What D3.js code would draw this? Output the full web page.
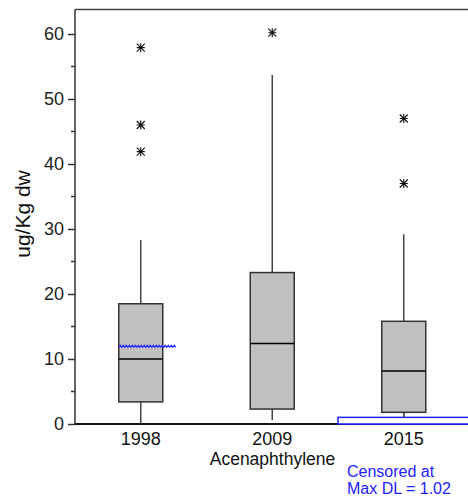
<!DOCTYPE html>
<html>
<head>
<meta charset="utf-8">
<script src="https://cdn.jsdelivr.net/npm/d3@7"></script>
<style>
body { margin: 0; background: #fff; }
text { font-family: "Liberation Sans", Arial, sans-serif; }
</style>
</head>
<body>
<div id="app"></div>
<script>
// values
const categories = ['1998', '2009', '2015']
const whiskLo = [0.1, 0.6, 1.0]
const q1 = [3.4, 2.3, 1.8]
const median = [10.0, 12.4, 8.15]
const q3 = [18.5, 23.3, 15.8]
const whiskHi = [28.3, 53.7, 29.2]
const outliers = [[57.9, 46.0, 41.9], [60.2], [47.0, 37.0]]
const means = [11.8, null, null]
const censored = [null, null, 1.02]
const yTicks = [0, 10, 20, 30, 40, 50, 60]
const yMinor = [5, 15, 25, 35, 45, 55]

const W = 468, H = 499
const svg = d3.select('#app').append('svg').attr('width', W).attr('height', H)

const left = 75, right = 469.5, bottom = 424
const x = d3.scalePoint().domain(categories).range([left, right]).padding(0.5)
const y = d3.scaleLinear().domain([0, 60]).range([bottom, 34])
const step = x.step()
const bw = 44

const rows = categories.map((c, i) => ({
  c, lo: whiskLo[i], q1: q1[i], med: median[i], q3: q3[i], hi: whiskHi[i],
  out: outliers[i], mean: means[i], cens: censored[i]
}))

// frame top line
svg.append('line').attr('x1', left).attr('x2', W).attr('y1', 9.5).attr('y2', 9.5)
  .attr('stroke', '#444').attr('stroke-width', 1.5)

// y axis
const yAxis = svg.append('g').attr('transform', `translate(${left},0)`)
  .call(d3.axisLeft(y).tickValues(yTicks).tickSize(7).tickPadding(4).tickFormat(d3.format('d')))
yAxis.select('.domain').remove()
yAxis.selectAll('.tick line').attr('stroke', '#333').attr('stroke-width', 1.5)
yAxis.selectAll('.tick text').attr('font-size', 18).attr('fill', '#222')
  .attr('font-family', '"Liberation Sans", Arial, sans-serif')
yAxis.selectAll('.minor').data(yMinor).enter().append('line')
  .attr('x1', -4).attr('x2', 0).attr('y1', d => y(d)).attr('y2', d => y(d))
  .attr('stroke', '#333').attr('stroke-width', 1.5)
svg.append('line').attr('x1', left).attr('x2', left).attr('y1', 9.5).attr('y2', bottom)
  .attr('stroke', '#333').attr('stroke-width', 1.5)

// x axis
svg.append('line').attr('x1', left).attr('x2', W).attr('y1', bottom).attr('y2', bottom)
  .attr('stroke', '#111').attr('stroke-width', 2)
svg.selectAll('.xlab').data(categories).enter().append('text')
  .attr('x', d => x(d)).attr('y', 445).attr('text-anchor', 'middle')
  .attr('font-size', 18).attr('fill', '#111').text(d => d)

svg.append('text').attr('x', 272.5).attr('y', 465).attr('text-anchor', 'middle')
  .attr('font-size', 17.5).attr('fill', '#111').text('Acenaphthylene')

svg.append('text').attr('transform', 'translate(30,214) rotate(-90)')
  .attr('text-anchor', 'middle').attr('font-size', 21).attr('fill', '#111').text('ug/Kg dw')

// boxes
const g = svg.selectAll('.box').data(rows).enter().append('g')
  .attr('transform', d => `translate(${x(d.c)},0)`)

g.append('line').attr('x1', 0).attr('x2', 0).attr('y1', d => y(d.lo)).attr('y2', d => y(d.hi))
  .attr('stroke', '#444').attr('stroke-width', 1.5)
g.append('rect').attr('x', -bw / 2).attr('width', bw)
  .attr('y', d => y(d.q3)).attr('height', d => y(d.q1) - y(d.q3))
  .attr('fill', '#c0c0c0').attr('stroke', '#333').attr('stroke-width', 1.5)
g.append('line').attr('x1', -bw / 2).attr('x2', bw / 2)
  .attr('y1', d => y(d.med)).attr('y2', d => y(d.med))
  .attr('stroke', '#000').attr('stroke-width', 1.5)

// outlier asterisks
const star = 'M-4,-4L4,4M-4,4L4,-4M0,-4.5L0,4.5M-4,0L4,0'
g.each(function (d) {
  d3.select(this).selectAll('.out').data(d.out).enter().append('path')
    .attr('transform', v => `translate(0,${y(v)})`)
    .attr('d', star).attr('stroke', '#111').attr('stroke-width', 1.1).attr('fill', 'none')
})

// mean as blue zigzag line
g.filter(d => d.mean != null).append('path')
  .attr('d', d => {
    const yy = y(d.mean)
    let p = `M${-bw / 2},${yy}`
    for (let xx = -bw / 2 + 1.5, k = 0; xx <= bw / 2 + 14; xx += 1.5, k++) {
      p += `L${xx},${yy + (k % 2 ? 0 : -2)}`
    }
    return p
  })
  .attr('stroke', '#2a2aff').attr('stroke-width', 1.2).attr('fill', 'none')

// censored region
g.filter(d => d.cens != null).append('rect')
  .attr('x', -step / 2).attr('width', step)
  .attr('y', d => y(d.cens)).attr('height', d => y(0) - y(d.cens))
  .attr('fill', '#fff').attr('stroke', '#2222ff').attr('stroke-width', 1.5)

g.filter(d => d.cens != null).append('line').attr('x1', 0).attr('x2', 0)
  .attr('y1', d => y(d.q1)).attr('y2', d => y(d.cens))
  .attr('stroke', '#444').attr('stroke-width', 1.5)

const note = svg.append('text').attr('x', 347).attr('font-size', 16).attr('fill', '#2222ff')
note.append('tspan').attr('x', 347).attr('y', 477).text('Censored at')
note.append('tspan').attr('x', 347).attr('y', 494).text('Max DL = ' + censored[2])
</script>
</body>
</html>
